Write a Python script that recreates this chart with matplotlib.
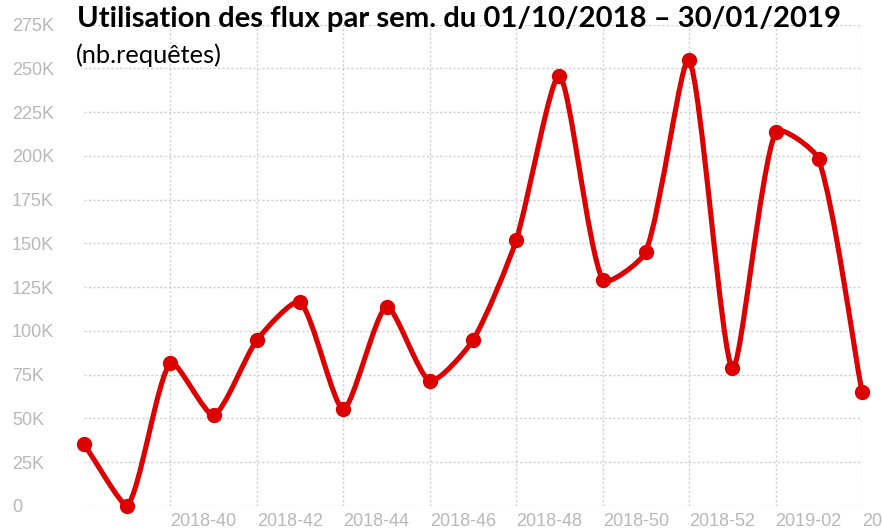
import matplotlib
matplotlib.use("Agg")
import matplotlib.pyplot as plt
import numpy as np
from matplotlib.path import Path
from matplotlib.patches import PathPatch
from matplotlib.transforms import IdentityTransform

weeks = ["2018-38", "2018-39", "2018-40", "2018-41", "2018-42", "2018-43", "2018-44",
         "2018-45", "2018-46", "2018-47", "2018-48", "2018-49", "2018-50", "2018-51",
         "2018-52", "2019-01", "2019-02", "2019-03", "2019-04"]
requests = [35300, 0, 81700, 51900, 94700, 116400, 55300, 113700, 71400, 94700,
            151900, 245600, 129000, 145200, 254700, 78700, 213800, 198000, 65000]
y_ticks = [0, 25000, 50000, 75000, 100000, 125000, 150000, 175000, 200000,
           225000, 250000, 275000]
y_tick_labels = ["0", "25K", "50K", "75K", "100K", "125K", "150K", "175K", "200K",
                 "225K", "250K", "275K"]
title = "Utilisation des flux par sem. du 01/10/2018 \u2013 30/01/2019"
subtitle = "(nb.requêtes)"

RED = "#dc0000"
GRAY_TXT = "#b8b8b8"
GRID = "#cfcfcf"
TENSION = 0.22

W, H = 882, 529
fig = plt.figure(figsize=(W / 100, H / 100), dpi=100)
ax = fig.add_axes([84 / W, (H - 505.8) / H, (862 - 84) / W, (505.8 - 24.6) / H])

x = np.arange(len(weeks), dtype=float)
y = np.array(requests, dtype=float)

ax.set_xlim(0, len(weeks) - 1)
ax.set_ylim(0, 275000)
fig.canvas.draw()

# Chart.js style spline (control points computed in display space, capped to area)
P = ax.transData.transform(np.column_stack([x, y]))
bb = ax.bbox
n = len(P)
cprev = np.zeros_like(P)
cnext = np.zeros_like(P)
for i in range(n):
    prev = P[i - 1] if i > 0 else P[i]
    cur = P[i]
    nxt = P[i + 1] if i < n - 1 else P[i]
    d01 = np.hypot(*(cur - prev))
    d12 = np.hypot(*(nxt - cur))
    tot = d01 + d12
    s01 = d01 / tot if tot else 0
    s12 = d12 / tot if tot else 0
    cprev[i] = cur - TENSION * s01 * (nxt - prev)
    cnext[i] = cur + TENSION * s12 * (nxt - prev)
for c in (cprev, cnext):
    c[:, 0] = np.clip(c[:, 0], bb.x0, bb.x1)
    c[:, 1] = np.clip(c[:, 1], bb.y0, bb.y1)

verts = [P[0]]
codes = [Path.MOVETO]
for i in range(1, n):
    verts += [cnext[i - 1], cprev[i], P[i]]
    codes += [Path.CURVE4] * 3
patch = PathPatch(Path(np.array(verts), codes), facecolor="none", edgecolor=RED,
                  lw=3.7, capstyle="round", joinstyle="round", clip_on=False,
                  transform=IdentityTransform(), zorder=3)
fig.add_artist(patch)
ax.plot(x, y, "o", color=RED, ms=10, clip_on=False, zorder=4)

xt = list(range(2, len(weeks), 2))
ax.set_xticks(xt)
ax.set_xticklabels([weeks[i] for i in xt], ha="left")
ax.set_yticks(y_ticks)
ax.set_yticklabels(y_tick_labels, ha="left")
ax.tick_params(axis="x", length=0, pad=5, labelsize=13, labelcolor=GRAY_TXT)
ax.tick_params(axis="y", length=0, pad=72 * 0.72, labelsize=13, labelcolor=GRAY_TXT)
for lab in ax.get_xticklabels() + ax.get_yticklabels():
    lab.set_fontfamily("Liberation Sans")

ax.grid(True, color=GRID, lw=1.0, linestyle=(0, (1.6, 1.6)))
ax.set_axisbelow(True)
for s in ax.spines.values():
    s.set_visible(False)

t = fig.text(77 / W, 1 - 27 / H, title, fontsize=22, fontweight="bold", family="Lato",
             color="black", va="baseline", ha="left")
st = fig.text(76 / W, 1 - 63 / H, subtitle, fontsize=15, family="Lato",
              color="black", va="baseline", ha="left")
fig.canvas.draw()
r = fig.canvas.get_renderer()
for txt, target in ((t, 763), (st, 147)):
    w = txt.get_window_extent(r).width
    txt.set_fontsize(txt.get_fontsize() * target / w)

fig.savefig("out.png", dpi=100)
